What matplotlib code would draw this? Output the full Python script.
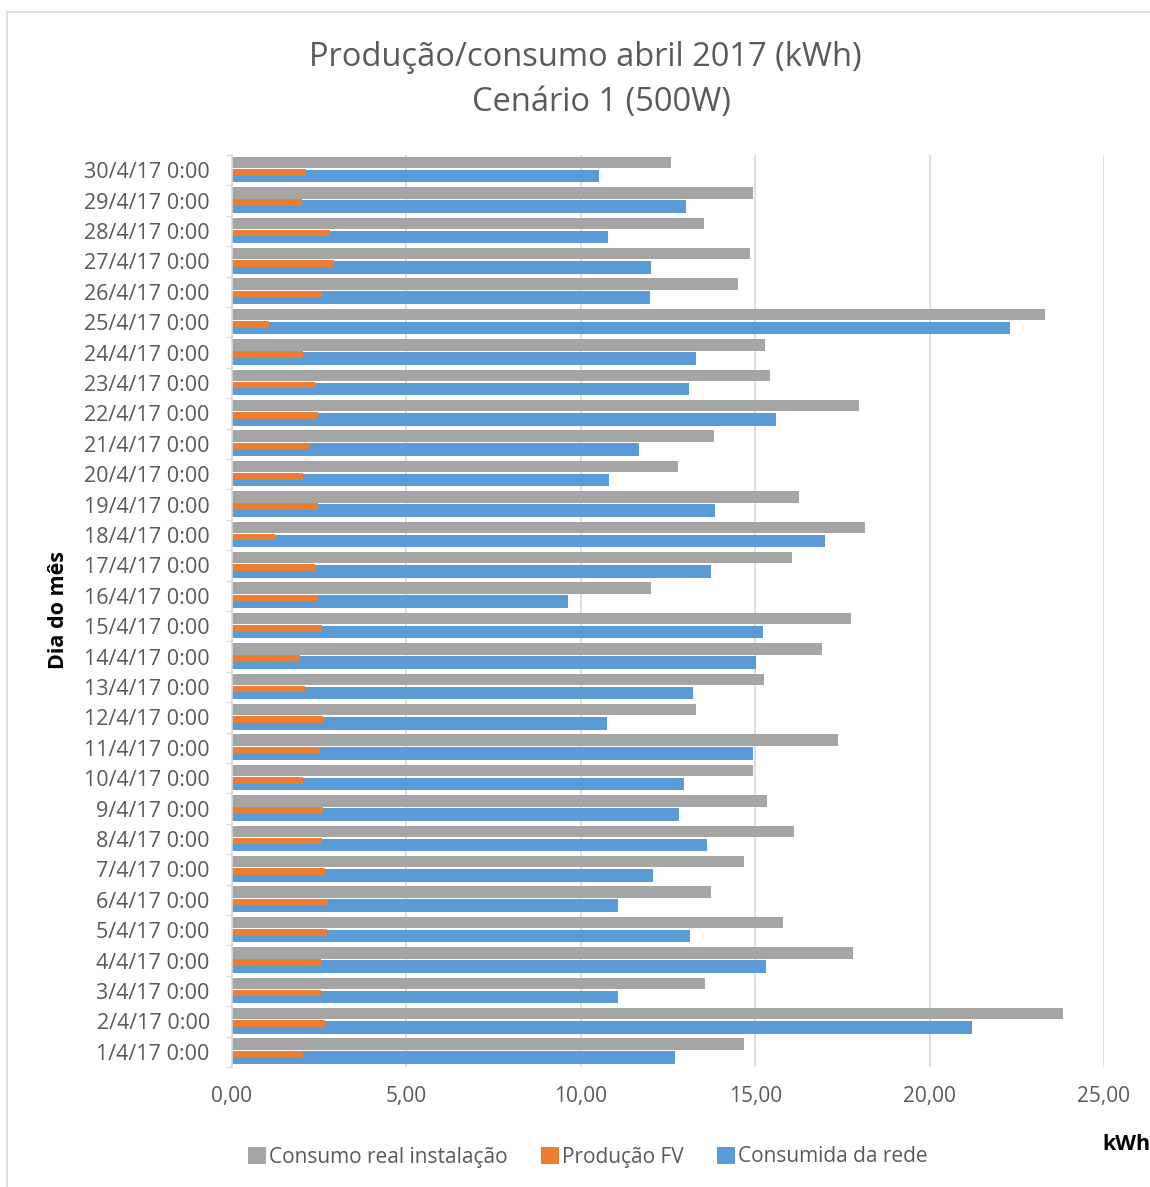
import numpy as np
from matplotlib import pyplot as plt
from matplotlib.patches import Patch, Rectangle
from matplotlib.ticker import FuncFormatter

# dados (dia 1 a 30 de abril)
dias = [str(d) + "/4/17 0:00" for d in range(1, 31)]

consumo_real = [14.67, 23.83, 13.56, 17.79, 15.81, 13.74, 14.68, 16.11, 15.34, 14.94,
                17.38, 13.31, 15.24, 16.92, 17.75, 12.01, 16.05, 18.16, 16.25, 12.79,
                13.82, 17.99, 15.42, 15.28, 23.31, 14.52, 14.85, 13.53, 14.94, 12.58]

producao_fv = [2.04, 2.68, 2.54, 2.55, 2.72, 2.74, 2.67, 2.57, 2.60, 2.03,
               2.52, 2.61, 2.08, 1.95, 2.59, 2.45, 2.39, 1.24, 2.46, 2.03,
               2.22, 2.47, 2.38, 2.03, 1.06, 2.57, 2.92, 2.82, 2.00, 2.13]

consumida_rede = [12.69, 21.22, 11.08, 15.31, 13.14, 11.07, 12.08, 13.61, 12.81, 12.96,
                  14.93, 10.76, 13.23, 15.03, 15.22, 9.63, 13.73, 16.99, 13.86, 10.82,
                  11.67, 15.60, 13.10, 13.30, 22.31, 11.98, 12.00, 10.78, 13.01, 10.52]

series = ["Consumo real instalação", "Produção FV", "Consumida da rede"]
cores = ["#A5A5A5", "#ED7D31", "#5B9BD5"]
cinza_texto = "#595959"
cinza_linha = "#D9D9D9"

plt.rcParams['font.family'] = ['Open Sans', 'DejaVu Sans']

W, H = 1150, 1187
fig = plt.figure(figsize=(W / 100, H / 100), dpi=100)

# moldura da area do grafico
fig.patches.append(Rectangle((7 / W, -0.01), 1.02, 1 - 12 / H + 0.01,
                             transform=fig.transFigure, fill=False,
                             edgecolor=cinza_linha, linewidth=1.2))

ax = fig.add_axes([232 / W, 1 - 1067 / H, (1104 - 232) / W, (1067 - 155) / H])

y = np.arange(len(dias))
ax.barh(y + 0.253, consumo_real, height=0.38, color=cores[0], zorder=3)
ax.barh(y - 0.195, consumida_rede, height=0.41, color=cores[2], zorder=3)
ax.barh(y - 0.07, producao_fv, height=0.22, color=cores[1], zorder=4)

ax.set_xlim(0, 25)
ax.set_ylim(-0.5, len(dias) - 0.5)
ax.set_xticks(np.arange(0, 26, 5))
ax.xaxis.set_major_formatter(FuncFormatter(lambda v, p: ("%.2f" % v).replace(".", ",")))
ax.set_yticks(y)
ax.set_yticklabels(dias)
ax.set_yticks(np.arange(-0.5, len(dias), 1), minor=True)

ax.tick_params(axis='x', length=0, pad=14, labelsize=15, labelcolor=cinza_texto)
ax.tick_params(axis='y', which='major', length=0, pad=16, labelsize=15.5, labelcolor=cinza_texto)
ax.tick_params(axis='y', which='minor', length=4.5, width=1, color=cinza_linha)

for s in ['top', 'right', 'bottom']:
    ax.spines[s].set_visible(False)
ax.spines['left'].set_color(cinza_linha)
ax.spines['left'].set_linewidth(1.2)
ax.spines['left'].set_zorder(5)
ax.grid(axis='x', color=cinza_linha, linewidth=1.2, zorder=0)

fig.text(585 / W, 1 - 58 / H, "Produção/consumo abril 2017 (kWh)", ha='center', va='center',
         fontsize=23.5, color=cinza_texto)
fig.text(601 / W, 1 - 103 / H, "Cenário 1 (500W)", ha='center', va='center',
         fontsize=23.5, color=cinza_texto)

fig.text(58 / W, 1 - 610 / H, "Dia do mês", rotation=90, ha='center', va='center',
         fontsize=15.5, fontweight='bold', color='black')
fig.text(1102 / W, 1 - 1145 / H, "kWh", ha='left', va='center',
         fontsize=15.5, fontweight='bold', color='black')

handles = [Patch(facecolor=c, label=l) for c, l in zip(cores, series)]
fig.legend(handles=handles, loc='center', bbox_to_anchor=(588 / W, 1 - 1157 / H), ncol=3,
           frameon=False, fontsize=15, labelcolor=cinza_texto, handlelength=0.85,
           handleheight=0.85, handletextpad=0.15, columnspacing=1.6)

plt.savefig("out.png", dpi=100)
